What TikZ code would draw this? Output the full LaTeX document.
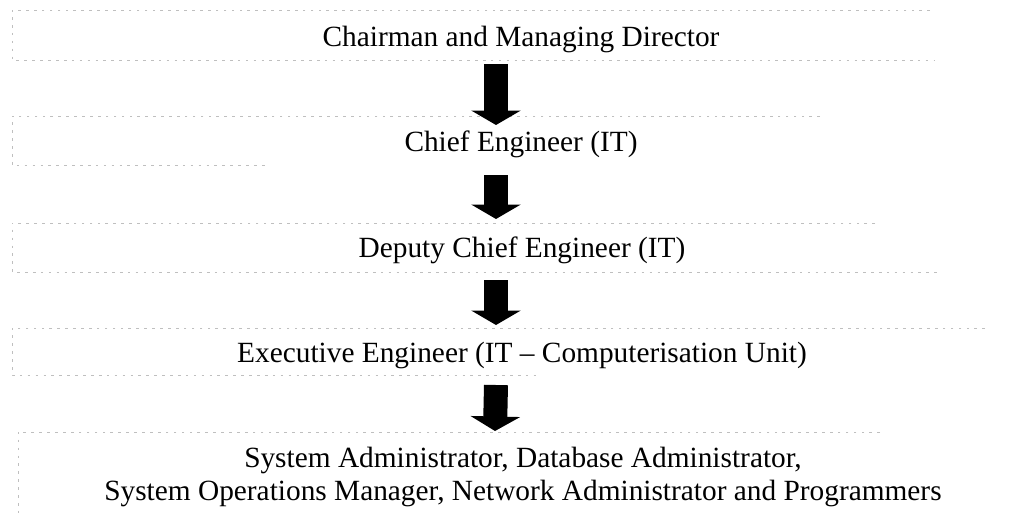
\documentclass[tikz,border=0pt]{standalone}
\usepackage{fontspec}
\setmainfont{Liberation Serif}
\usetikzlibrary{arrows.meta}

\tikzset{
  post/.style={inner sep=0pt, font=\fontsize{16.7}{18.8}\selectfont},
  frame/.style={gray!50, line width=0.4pt, dash pattern=on 1.5pt off 3pt},
  flow/.style={line width=0.48cm, -{Triangle[width=0.98cm,length=0.29cm]}},
}

\begin{document}
\begin{tikzpicture}[x=0.02cm,y=-0.02cm]
        \useasboundingbox (0,0) rectangle (1028,518);

        % faint frames round the levels (top end / bottom end differ)
        \foreach \t/\b/\r/\s in {10/60/930/935,116/165/820/265,223/272/875/940,328/375/985/540}
          \draw[frame] (\r,\t) -- (12,\t) -- (12,\b) -- (\s,\b);
        \draw[frame] (880,432) -- (18,432) -- (18,518);

        \node[post] (cmd) at (521,39) {Chairman and Managing Director};
        \node[post] (ce) at (521,144) {Chief Engineer (IT)};
        \node[post] (dce) at (522,250) {Deputy Chief Engineer (IT)};
        \node[post] (ee) at (522,355) {Executive Engineer (IT -- Computerisation Unit)};
        \node[post,align=center] (staff) at (523,477) {System Administrator, Database Administrator,\\
          System Operations Manager, Network Administrator and Programmers};

        \draw[flow] ([shift={(-25,25)}]cmd.center) -- ([shift={(-25,-19)}]ce.center);
        \draw[flow] ([shift={(-25,31)}]ce.center) -- ([shift={(-26,-31)}]dce.center);
        \draw[flow] ([shift={(-26,30)}]dce.center) -- ([shift={(-26,-30)}]ee.center);
        \draw[flow] ([shift={(-26,30)}]ee.center) -- ([shift={(-28,-46)}]staff.center);

\end{tikzpicture}
\end{document}
